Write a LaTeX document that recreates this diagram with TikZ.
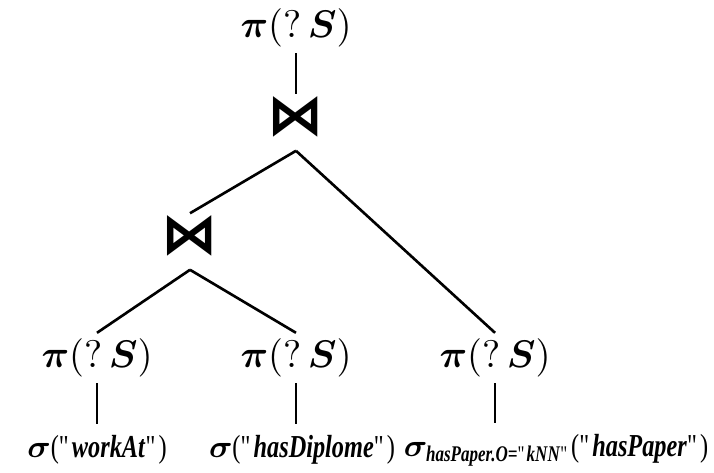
\documentclass[tikz,border=0pt]{standalone}
\usepackage{fontspec}
\usepackage{amsmath}
\usepackage{bm}
\usepackage{tikz}
\usetikzlibrary{positioning,calc}
\setmainfont{Liberation Serif}
\newfontfamily\selfont[FakeStretch=0.76]{Liberation Serif}
\newfontfamily\opfont{DejaVu Sans}
\definecolor{treeink}{HTML}{000000}
\newcommand{\projS}{$\bm{\pi}(?\,\bm{S})$}
\newcommand{\selq}[1]{\textquotedbl\textbf{\textit{#1}}\textquotedbl}
\tikzset{
  proj/.style={font=\fontsize{11}{13}\selectfont, text=treeink, inner sep=1.5pt},
  joinop/.style={font=\opfont\bfseries\fontsize{16}{16}\selectfont, text=treeink, inner sep=0.5pt},
  sel/.style={font=\selfont\fontsize{9.1}{11}\selectfont, text=treeink, inner sep=3pt},
  branch/.style={draw=treeink, line width=0.75pt},
}

\begin{document}
\begin{tikzpicture}
\useasboundingbox (0,0) rectangle (7.14,-4.72);

\node[proj] (ptop) at (2.96,-0.28) {\projS};
\node[joinop] (jtop) at (2.96,-1.17) {⋈};
\node[joinop] (jlow) at (1.90,-2.36) {⋈};

\node[proj] (pa) at (0.97,-3.58) {\projS};
\node[proj] (pb) at (2.96,-3.58) {\projS};
\node[proj] (pc) at (4.95,-3.58) {\projS};

\node[sel] (sa) at (0.97,-4.50) {$\bm{\sigma}$(\selq{workAt})};
\node[sel] (sb) at (3.02,-4.50) {$\bm{\sigma}$(\selq{hasDiplome})};
\node[sel] (sc) at (5.56,-4.50)
  {$\bm{\sigma}_{\text{\selfont\textbf{\textit{hasPaper.O=}}\textquotedbl\textbf{\textit{kNN}}\textquotedbl}}$(\selq{hasPaper})};

\draw[branch] (ptop) -- (jtop);
\draw[branch] ([yshift=-1.1mm]jtop.south) -- (jlow.north);
\draw[branch] ([yshift=-1.1mm]jtop.south) -- (pc.north);
\draw[branch] ([yshift=-1.1mm]jlow.south) -- (pa.north);
\draw[branch] ([yshift=-1.1mm]jlow.south) -- (pb.north);

\foreach \p/\s in {pa/sa, pb/sb, pc/sc} {
  \draw[branch] (\p.south) -- (\p.south |- \s.north);
}

\end{tikzpicture}
\end{document}
